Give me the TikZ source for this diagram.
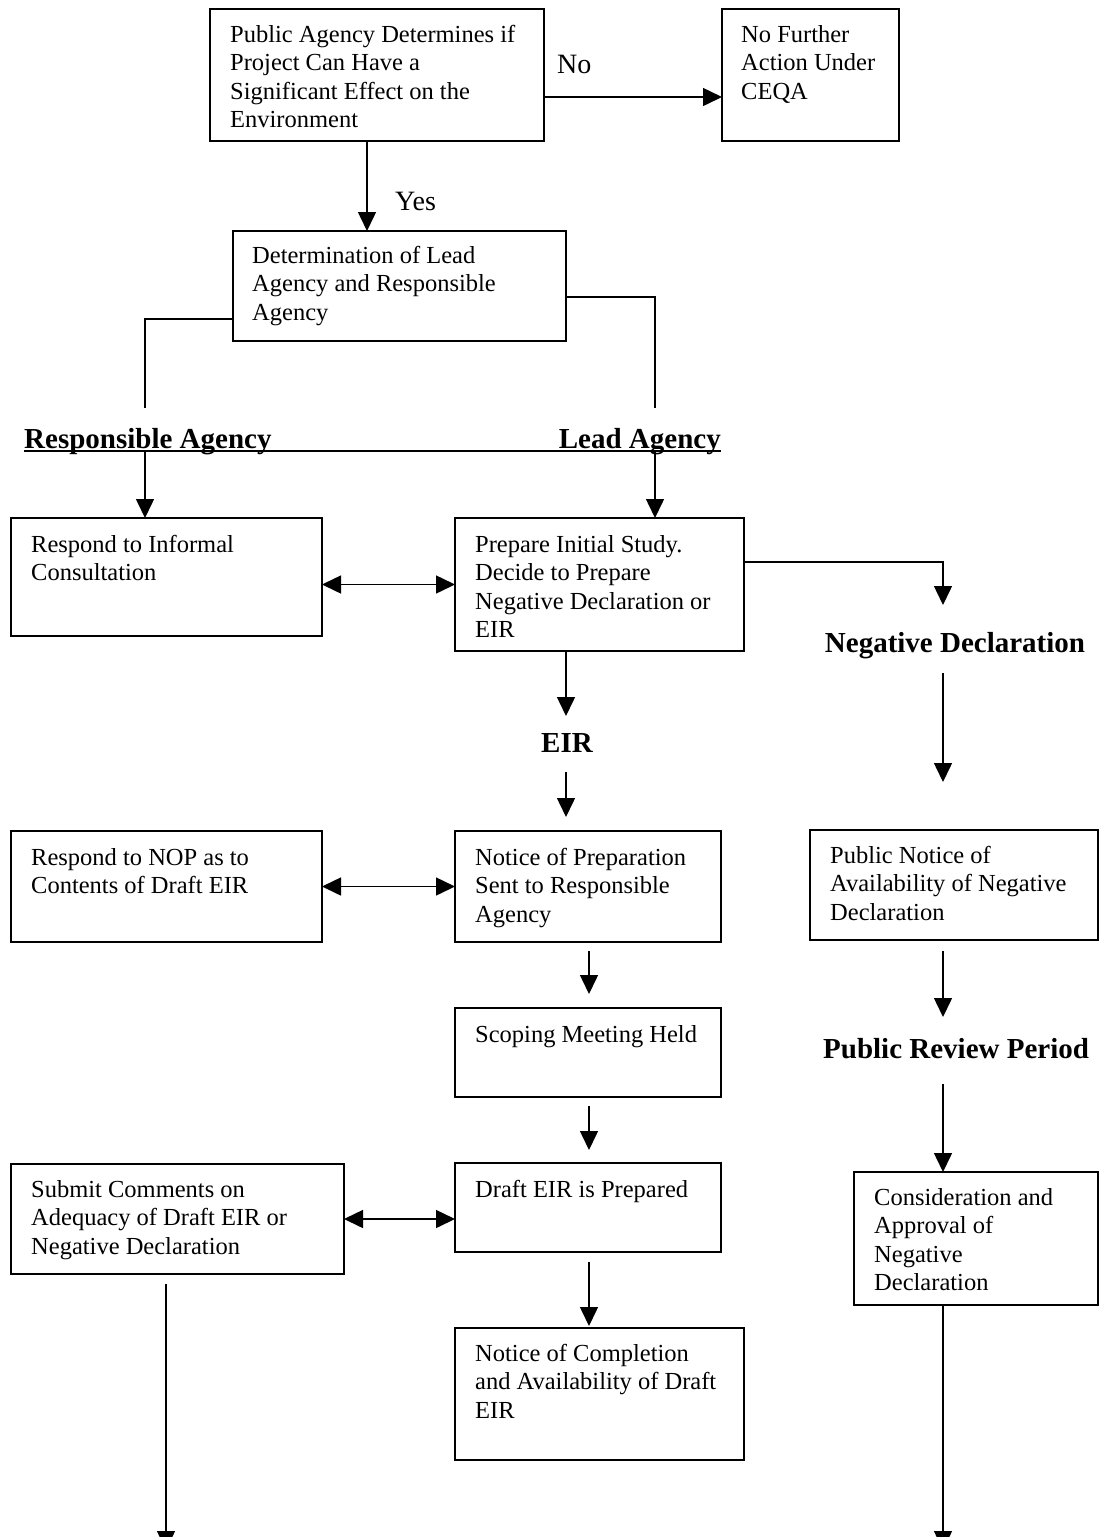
\documentclass[tikz,border=0pt]{standalone}
\usepackage{fontspec}
\setmainfont{Liberation Serif}
\usetikzlibrary{arrows.meta}
\newcommand\bodyfont{\fontsize{24.5}{28.5}\selectfont}
\newcommand\labfont{\fontsize{29}{34}\selectfont\bfseries}
\newcommand\ynfont{\fontsize{28}{32}\selectfont}
\begin{document}
\begin{tikzpicture}[x=1pt,y=-1pt,
 box/.style={draw, line width=1.6pt, rectangle, inner sep=0pt, outer sep=0pt},
 txt/.style={anchor=north west, inner sep=0pt, align=left, font=\bodyfont},
 tip/.style={-{Triangle[length=19pt,width=18pt]}},
 arr/.style={line width=1.5pt, tip},
 dbl/.style={line width=1.5pt, {Triangle[length=19pt,width=18pt]}-{Triangle[length=19pt,width=18pt]}},
 ln/.style={line width=1.5pt},
 lab/.style={inner sep=0pt, font=\labfont}]
\useasboundingbox (0,0) rectangle (1099,1537);

% boxes
\node[box, minimum width=334pt, minimum height=132pt] (A) at (377,75) {};
\node[box, minimum width=177pt, minimum height=132pt] (B) at (810.5,75) {};
\node[box, minimum width=333pt, minimum height=110pt] (C) at (399.5,286) {};
\node[box, minimum width=311pt, minimum height=118pt] (D) at (166.5,577) {};
\node[box, minimum width=289pt, minimum height=133pt] (E) at (599.5,584.5) {};
\node[box, minimum width=311pt, minimum height=111pt] (I) at (166.5,886.5) {};
\node[box, minimum width=266pt, minimum height=111pt] (H) at (588,886.5) {};
\node[box, minimum width=288pt, minimum height=110pt] (F) at (954,885) {};
\node[box, minimum width=266pt, minimum height=89pt] (J) at (588,1052.5) {};
\node[box, minimum width=266pt, minimum height=89pt] (K) at (588,1207.5) {};
\node[box, minimum width=333pt, minimum height=110pt] (L) at (177.5,1219) {};
\node[box, minimum width=244pt, minimum height=133pt] (G) at (976,1238.5) {};
\node[box, minimum width=289pt, minimum height=132pt] (M) at (599.5,1394) {};

% texts
\node[txt] (At) at ([xshift=20pt,yshift=-13pt]A.north west) {\strut Public Agency Determines if\\ Project Can Have a\\ Significant Effect on the\\ Environment};
\node[txt] (Bt) at ([xshift=19pt,yshift=-13pt]B.north west) {\strut No Further\\ Action Under\\ CEQA};
\node[txt] (Ct) at ([xshift=19pt,yshift=-12pt]C.north west) {\strut Determination of Lead\\ Agency and Responsible\\ Agency};
\node[txt] (Dt) at ([xshift=20pt,yshift=-14pt]D.north west) {\strut Respond to Informal\\ Consultation};
\node[txt] (Et) at ([xshift=20pt,yshift=-14pt]E.north west) {\strut Prepare Initial Study.\\ Decide to Prepare\\ Negative Declaration or\\ EIR};
\node[txt] (It) at ([xshift=20pt,yshift=-14pt]I.north west) {\strut Respond to NOP as to\\ Contents of Draft EIR};
\node[txt] (Ht) at ([xshift=20pt,yshift=-14pt]H.north west) {\strut Notice of Preparation\\ Sent to Responsible\\ Agency};
\node[txt] (Ft) at ([xshift=20pt,yshift=-13pt]F.north west) {\strut Public Notice of\\ Availability of Negative\\ Declaration};
\node[txt] (Jt) at ([xshift=20pt,yshift=-14pt]J.north west) {\strut Scoping Meeting Held};
\node[txt] (Kt) at ([xshift=20pt,yshift=-14pt]K.north west) {\strut Draft EIR is Prepared};
\node[txt] (Lt) at ([xshift=20pt,yshift=-13pt]L.north west) {\strut Submit Comments on\\ Adequacy of Draft EIR or\\ Negative Declaration};
\node[txt] (Gt) at ([xshift=20pt,yshift=-13pt]G.north west) {\strut Consideration and\\ Approval of\\ Negative\\ Declaration};
\node[txt] (Mt) at ([xshift=20pt,yshift=-13pt]M.north west) {\strut Notice of Completion\\ and Availability of Draft\\ EIR};

% labels
\node[font=\ynfont, anchor=base west, inner sep=0pt] (no) at (557,73) {No};
\node[font=\ynfont, anchor=base west, inner sep=0pt] (yes) at (395,210) {Yes};
\node[lab, anchor=base west] (ra) at (24,448) {Responsible Agency};
\node[lab, anchor=base east] (la) at (721,448) {Lead Agency};
\node[lab, anchor=base] (nd) at (955,652) {Negative Declaration};
\node[lab, anchor=base] (eir) at (567,752) {EIR};
\node[lab, anchor=base west] (prp) at (823,1058) {Public Review Period};

% coordinates
\coordinate (u1) at (24,451);
\coordinate (u2) at (721,451);
\coordinate (rt) at (145,408);
\coordinate (lt) at (655,408);
\coordinate (rb) at (145,451);
\coordinate (lb) at (655,451);
\coordinate (nd1) at (943,605);
\coordinate (nd2) at (943,673);
\coordinate (nd3) at (943,782);
\coordinate (f1) at (943,951);
\coordinate (f2) at (943,1017);
\coordinate (p1) at (943,1084);
\coordinate (gend) at (943,1550);
\coordinate (e1) at (566,716);
\coordinate (e2) at (566,772);
\coordinate (e3) at (566,817);
\coordinate (h1) at (589,951);
\coordinate (h2) at (589,994);
\coordinate (j1) at (589,1106);
\coordinate (j2) at (589,1150);
\coordinate (k1) at (589,1262);
\coordinate (k2) at (589,1326);
\coordinate (l1) at (166,1284);
\coordinate (lend) at (166,1550);

% connectors
\draw[arr] ([yshift=-22pt]A.east) -- ([yshift=-22pt]B.west);
\draw[arr] ([xshift=-10pt]A.south) -- ([xshift=-10pt]A.south |- C.north);
\draw[ln] ([yshift=-33pt]C.west) -| (rt);
\draw[ln] ([yshift=-11pt]C.east) -| (lt);
\draw[ln] (u1) -- (u2);
\draw[arr] (rb) -- (rb |- D.north);
\draw[arr] (lb) -- (lb |- E.north);
\draw[dbl] (E.west -| D.east) -- (E.west);
\draw[arr] ([yshift=22.5pt]E.east) -| (nd1);
\draw[arr] (nd2) -- (nd3);
\draw[arr] (f1) -- (f2);
\draw[arr] (p1) -- (p1 |- G.north);
\draw[arr] (gend |- G.south) -- (gend);
\draw[arr] (e1 |- E.south) -- (e1);
\draw[arr] (e2) -- (e3);
\draw[dbl] (H.west -| I.east) -- (H.west);
\draw[arr] (h1) -- (h2);
\draw[arr] (j1) -- (j2);
\draw[dbl] (L.east) -- (L.east -| K.west);
\draw[arr] (k1) -- (k2);
\draw[arr] (l1) -- (lend);
\end{tikzpicture}
\end{document}
